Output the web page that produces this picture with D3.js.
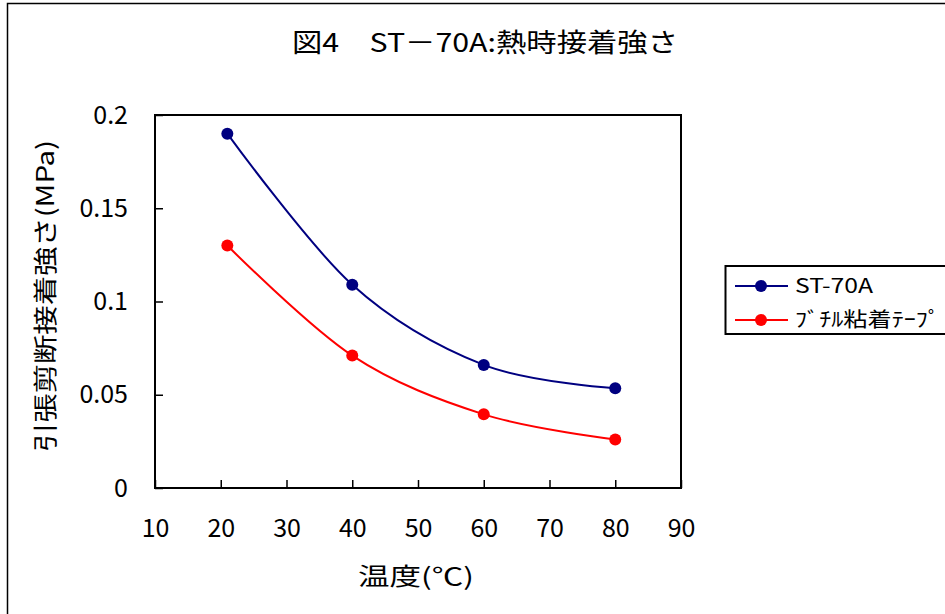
<!DOCTYPE html>
<html><head><meta charset="utf-8">
<script src="https://cdn.jsdelivr.net/npm/d3@7"></script>
<style>body{margin:0;background:#fff}svg{display:block}text{font-family:"Noto Sans CJK JP","Noto Sans",sans-serif;fill:#000}</style>
</head><body>
<script>
const temps = [21, 40, 60, 80];
const st70a = [0.190, 0.109, 0.066, 0.0535];
const butyl = [0.130, 0.071, 0.0395, 0.026];
const seriesNames = ["ST-70A", "ﾌﾞﾁﾙ粘着ﾃｰﾌﾟ"];
const seriesColors = ["#000080", "#ff0000"];
const xTicks = [10, 20, 30, 40, 50, 60, 70, 80, 90];
const yTicks = [0, 0.05, 0.1, 0.15, 0.2];
const yTickLabels = ["0", "0.05", "0.1", "0.15", "0.2"];
const title = "図4　ST－70A:熱時接着強さ";
const xTitle = "温度(℃)";
const yTitle = "引張剪断接着強さ(MPa)";

const W = 945, H = 614;
const svg = d3.select("body").append("svg").attr("width", W).attr("height", H);
svg.append("rect").attr("x", 7.5).attr("y", 3.5).attr("width", 1000).attr("height", 1000)
  .attr("fill", "none").attr("stroke", "#000").attr("stroke-width", 1.5);

const L = 155, R = 681, T = 115, B = 488;
const x = d3.scaleLinear().domain([10, 90]).range([L, R]);
const y = d3.scaleLinear().domain([0, 0.2]).range([B, T]);

svg.append("text").attr("x", 485).attr("y", 52).attr("text-anchor", "middle")
  .attr("font-size", 26).attr("textLength", 386).attr("lengthAdjust", "spacingAndGlyphs").text(title);

// plot box
svg.append("rect").attr("x", L).attr("y", T).attr("width", R - L).attr("height", B - T)
  .attr("fill", "none").attr("stroke", "#000").attr("stroke-width", 2);

const yAxis = d3.axisLeft(y).tickValues(yTicks).tickSize(-8).tickPadding(27)
  .tickFormat((d, i) => yTickLabels[i]);
const gy = svg.append("g").attr("transform", `translate(${L},0)`).call(yAxis);
gy.select(".domain").remove();
gy.selectAll("line").attr("stroke", "#000").attr("stroke-width", 1.5);
gy.selectAll("text").style("font-size", "25px");

const xAxis = d3.axisBottom(x).tickValues(xTicks).tickSize(-8).tickPadding(31);
const gx = svg.append("g").attr("transform", `translate(0,${B})`).call(xAxis);
gx.select(".domain").remove();
gx.selectAll("line").attr("stroke", "#000").attr("stroke-width", 1.5);
gx.selectAll("text").style("font-size", "25px");

svg.append("text").attr("x", 416).attr("y", 585).attr("text-anchor", "middle")
  .attr("font-size", 24).attr("textLength", 116).attr("lengthAdjust", "spacingAndGlyphs").text(xTitle);
svg.append("text").attr("transform", "translate(54,296) rotate(-90)").attr("text-anchor", "middle")
  .attr("font-size", 24).attr("textLength", 312).attr("lengthAdjust", "spacingAndGlyphs").text(yTitle);

const line = d3.line().x(d => x(d[0])).y(d => y(d[1])).curve(d3.curveCatmullRom.alpha(0));
[st70a, butyl].forEach((vals, i) => {
  const pts = temps.map((t, j) => [t, vals[j]]);
  svg.append("path").datum(pts).attr("d", line).attr("fill", "none")
    .attr("stroke", seriesColors[i]).attr("stroke-width", 2);
  svg.selectAll(null).data(pts).enter().append("circle")
    .attr("cx", d => x(d[0])).attr("cy", d => y(d[1])).attr("r", 6)
    .attr("fill", seriesColors[i]);
});

// legend
svg.append("rect").attr("x", 725.5).attr("y", 266).attr("width", 300).attr("height", 68)
  .attr("fill", "#fff").attr("stroke", "#000").attr("stroke-width", 2);
const legendW = [78, 145];
seriesNames.forEach((n, i) => {
  const yy = 286 + i * 34;
  svg.append("line").attr("x1", 735).attr("x2", 788).attr("y1", yy).attr("y2", yy)
    .attr("stroke", seriesColors[i]).attr("stroke-width", 2);
  svg.append("circle").attr("cx", 761).attr("cy", yy).attr("r", 6).attr("fill", seriesColors[i]);
  svg.append("text").attr("x", 795).attr("y", yy + 7).attr("font-size", 20)
    .attr("textLength", legendW[i]).attr("lengthAdjust", "spacingAndGlyphs").text(n);
});
</script>
</body></html>
